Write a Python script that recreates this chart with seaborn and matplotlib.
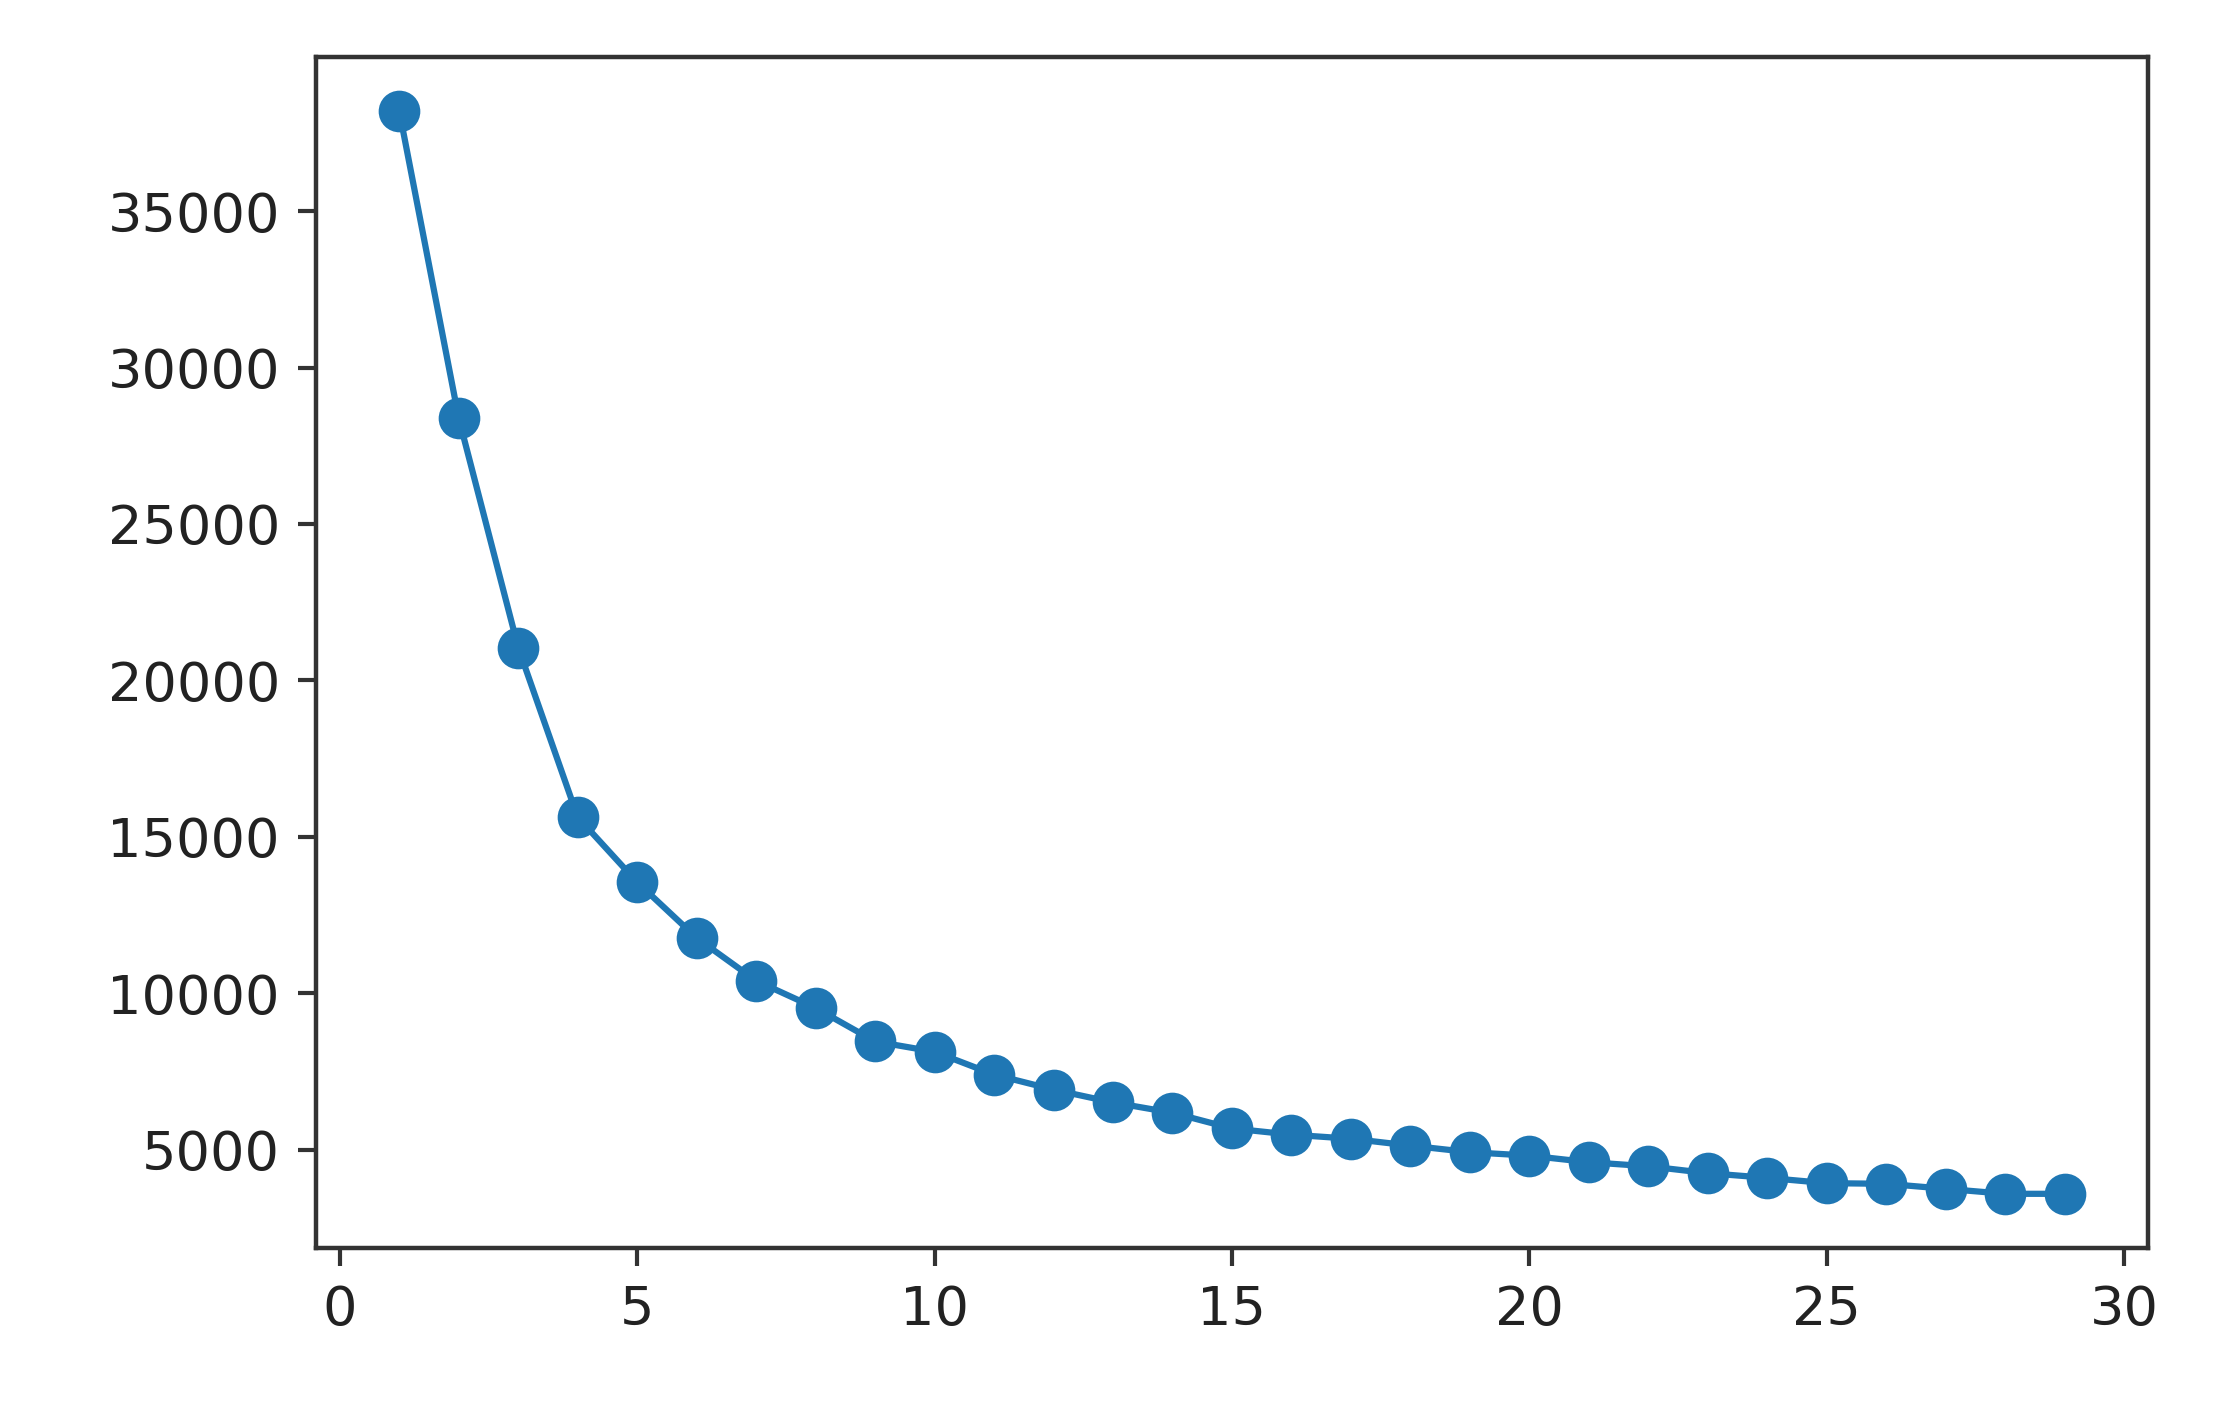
import pandas as pd
import matplotlib
matplotlib.use("Agg")
import matplotlib.pyplot as plt
import seaborn as sns

# Valeurs (courbe du coude)
k_values = list(range(1, 30))
inertia = [38200, 28380, 21050, 15630, 13550, 11770, 10400, 9530, 8460, 8130,
           7400, 6920, 6510, 6180, 5680, 5480, 5350, 5130, 4920, 4810,
           4600, 4470, 4250, 4100, 3930, 3910, 3750, 3590, 3590]

df = pd.DataFrame({"k": k_values, "inertie": inertia})

fig = plt.figure(figsize=(22.3, 14.22), dpi=100)
ax = fig.add_axes([0.1417, 0.1224, 0.8215, 0.8376])

sns.lineplot(data=df, x="k", y="inertie", marker="o", markersize=30,
             markeredgewidth=0, linewidth=4.5, color="#1f77b4", ax=ax)

ax.set_xlabel("")
ax.set_ylabel("")
ax.set_xticks([0, 5, 10, 15, 20, 25, 30])
ax.set_yticks([5000, 10000, 15000, 20000, 25000, 30000, 35000])
ax.tick_params(axis="both", labelsize=39, length=13, width=3, pad=13,
               colors="#333333", labelcolor="#222222")
for s in ax.spines.values():
    s.set_linewidth(3.2)
    s.set_color("#333333")

fig.savefig("out.png", dpi=100)
